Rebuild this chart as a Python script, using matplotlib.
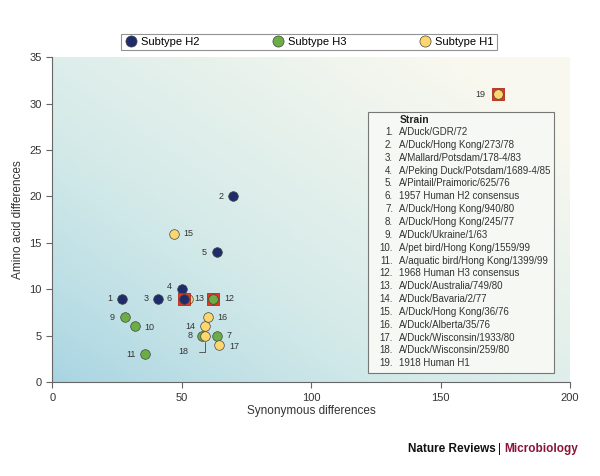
import numpy as np
import matplotlib.pyplot as plt
from matplotlib.colors import LinearSegmentedColormap
from matplotlib.lines import Line2D

# strain numbers, synonymous (x) and amino acid (y) differences, subtype
strain_ids = [1, 2, 3, 4, 5, 6, 7, 8, 9, 10, 11, 12, 13, 14, 15, 16, 17, 18, 19]
syn_diff = [27, 70, 41, 50, 63.5, 51, 63.5, 58, 28, 32, 36, 62.3, 52.5, 59, 47, 60, 64.5, 59, 172]
aa_diff = [9, 20, 9, 10, 14, 9, 5, 5, 7, 6, 3, 9, 9, 6, 16, 7, 4, 5, 31]
subtype = ['H2', 'H2', 'H2', 'H2', 'H2', 'H2', 'H3', 'H3', 'H3', 'H3', 'H3', 'H3',
           'H1', 'H1', 'H1', 'H1', 'H1', 'H1', 'H1']
human_strains = [6, 12, 19]

strain_names = [
    "A/Duck/GDR/72",
    "A/Duck/Hong Kong/273/78",
    "A/Mallard/Potsdam/178-4/83",
    "A/Peking Duck/Potsdam/1689-4/85",
    "A/Pintail/Praimoric/625/76",
    "1957 Human H2 consensus",
    "A/Duck/Hong Kong/940/80",
    "A/Duck/Hong Kong/245/77",
    "A/Duck/Ukraine/1/63",
    "A/pet bird/Hong Kong/1559/99",
    "A/aquatic bird/Hong Kong/1399/99",
    "1968 Human H3 consensus",
    "A/Duck/Australia/749/80",
    "A/Duck/Bavaria/2/77",
    "A/Duck/Hong Kong/36/76",
    "A/Duck/Alberta/35/76",
    "A/Duck/Wisconsin/1933/80",
    "A/Duck/Wisconsin/259/80",
    "1918 Human H1",
]

colors = {'H2': '#1f2c6b', 'H3': '#6aae45', 'H1': '#fdd66e'}
legend_order = ['H2', 'H3', 'H1']

# label offsets in points (dx, dy, ha)
label_pos = {
    1: (-7, 0, 'right'), 2: (-7, 0, 'right'), 3: (-7, 0, 'right'), 4: (-7, 2, 'right'),
    5: (-7, 0, 'right'), 6: (-9, 0, 'right'), 7: (7, 0, 'left'), 8: (-7, 0, 'right'),
    9: (-7, 0, 'right'), 10: (7, -1, 'left'), 11: (-7, 0, 'right'), 12: (8, 0, 'left'),
    13: (4.5, 0, 'left'), 14: (-7, 0, 'right'), 15: (7, 0, 'left'), 16: (7, 0, 'left'),
    17: (7, -1, 'left'), 18: (-12, -11, 'right'), 19: (-9, 0, 'right'),
}

plt.rcParams['font.family'] = ['Liberation Sans', 'DejaVu Sans']

fig = plt.figure(figsize=(6, 4.76), dpi=100)
ax = fig.add_axes([0.087, 0.197, 0.863, 0.683])

# background gradient
gx, gy = np.meshgrid(np.linspace(0, 1, 300), np.linspace(0, 1, 300))
t = np.clip((gx * 0.6 + gy * 0.55) ** 0.8, 0, 1)
cmap = LinearSegmentedColormap.from_list('bg', ['#a6d4e2', '#d4eae9', '#f8f8ef'])
ax.imshow(t, cmap=cmap, origin='lower', extent=[0, 200, 0, 35], aspect='auto', zorder=0)

for i, sid in enumerate(strain_ids):
    x, y = syn_diff[i], aa_diff[i]
    if sid in human_strains:
        ax.scatter(x, y, s=78, marker='s', color='#de3a24', edgecolor='#b02a18',
                   linewidth=0.6, zorder=3 if sid != 6 else 4)
    z = 4 if sid != 6 else 5
    if sid == 13:
        z = 3.5
    ax.scatter(x, y, s=48, color=colors[subtype[i]], edgecolor='#444444',
               linewidth=0.5, zorder=z)
    dx, dy, ha = label_pos[sid]
    ax.annotate(str(sid), (x, y), xytext=(dx, dy), textcoords='offset points',
                ha=ha, va='center', fontsize=6.5, color='#333333', zorder=6)

# leader line for 18
ax.annotate('', (59, 4.6), xytext=(-6, -9), textcoords='offset points',
            arrowprops=dict(arrowstyle='-', color='#444444', lw=0.6,
                            connectionstyle='angle,angleA=0,angleB=90'), zorder=6)

ax.set_xlim(0, 200)
ax.set_ylim(0, 35)
ax.set_xticks([0, 50, 100, 150, 200])
ax.set_yticks([0, 5, 10, 15, 20, 25, 30, 35])
for s in ['top', 'right']:
    ax.spines[s].set_visible(False)
for s in ['left', 'bottom']:
    ax.spines[s].set_color('#666666')
    ax.spines[s].set_linewidth(0.8)
ax.tick_params(colors='#666666', labelcolor='#333333', labelsize=8, length=4, width=0.8)
ax.set_xlabel('Synonymous differences', fontsize=8.5, color='#333333', labelpad=2)
ax.set_ylabel('Amino acid differences', fontsize=8.5, color='#333333', labelpad=4)

# strain table
box = plt.Rectangle((0.61, 0.028), 0.359, 0.803, transform=ax.transAxes,
                    facecolor='#f6f8f4', edgecolor='#777777', linewidth=0.8, zorder=7)
ax.add_patch(box)
fig.text(400 / 600, 1 - 120 / 476, 'Strain', fontsize=7.5, fontweight='bold',
         color='#222222', va='center', zorder=8)
for k, name in enumerate(strain_names):
    ypx = 132 + k * 12.85
    fig.text(393 / 600, 1 - ypx / 476, f'{k + 1}.', fontsize=7.0, ha='right',
             va='center', color='#333333')
    fig.text(399 / 600, 1 - ypx / 476, name, fontsize=7.0, ha='left',
             va='center', color='#333333')

# legend on top
handles = [Line2D([], [], marker='o', linestyle='', markersize=8,
                  markerfacecolor=colors[k], markeredgecolor='#444444',
                  markeredgewidth=0.5, label=f'Subtype {k}') for k in legend_order]
leg = fig.legend(handles=handles, loc='center', bbox_to_anchor=(0.515, 1 - 42 / 476),
                 ncol=3, fontsize=8, frameon=True, fancybox=False, edgecolor='#777777',
                 handletextpad=0.3, columnspacing=6.5, borderpad=0.3, handlelength=1.2)
leg.get_frame().set_linewidth(0.8)

# footer
fig.text(408 / 600, 1 - 449 / 476, 'Nature Reviews', fontsize=8.5, fontweight='bold',
         color='#111111', va='center')
fig.text(498 / 600, 1 - 449 / 476, '|', fontsize=8.5, color='#111111', va='center')
fig.text(504 / 600, 1 - 449 / 476, 'Microbiology', fontsize=8.5, fontweight='bold',
         color='#8a1538', va='center')

fig.savefig('out.png', dpi=100)
